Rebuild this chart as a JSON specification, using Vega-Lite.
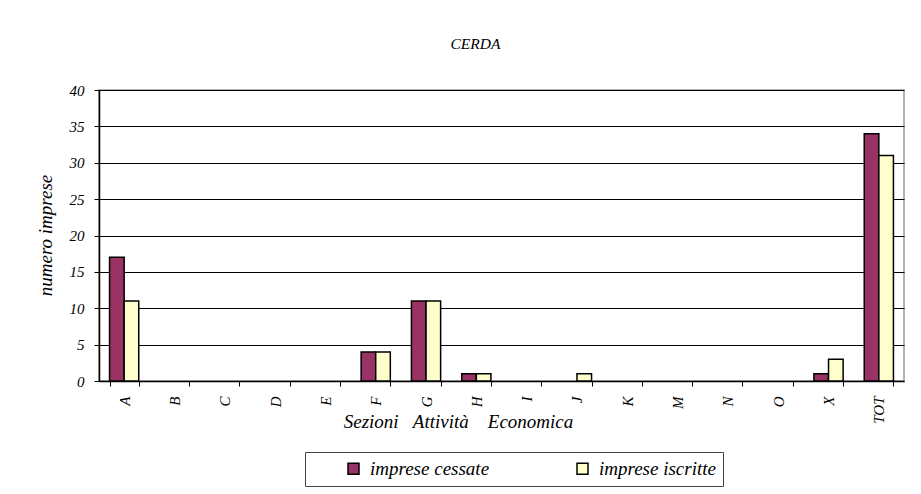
{
  "$schema": "https://vega.github.io/schema/vega-lite/v6.json",
  "autosize": "none",
  "width": 805,
  "height": 291,
  "padding": {"left": 99, "top": 90, "right": 17, "bottom": 113},
  "background": "white",
  "title": {"text": "CERDA", "font": "Liberation Serif", "fontStyle": "italic", "fontWeight": "normal", "fontSize": 15.5, "color": "black", "offset": 31, "dx": -26},
  "data": {"values": [
    {"sezione": "A", "serie": "imprese cessate", "valore": 17},
    {"sezione": "A", "serie": "imprese iscritte", "valore": 11},
    {"sezione": "B", "serie": "imprese cessate", "valore": 0},
    {"sezione": "B", "serie": "imprese iscritte", "valore": 0},
    {"sezione": "C", "serie": "imprese cessate", "valore": 0},
    {"sezione": "C", "serie": "imprese iscritte", "valore": 0},
    {"sezione": "D", "serie": "imprese cessate", "valore": 0},
    {"sezione": "D", "serie": "imprese iscritte", "valore": 0},
    {"sezione": "E", "serie": "imprese cessate", "valore": 0},
    {"sezione": "E", "serie": "imprese iscritte", "valore": 0},
    {"sezione": "F", "serie": "imprese cessate", "valore": 4},
    {"sezione": "F", "serie": "imprese iscritte", "valore": 4},
    {"sezione": "G", "serie": "imprese cessate", "valore": 11},
    {"sezione": "G", "serie": "imprese iscritte", "valore": 11},
    {"sezione": "H", "serie": "imprese cessate", "valore": 1},
    {"sezione": "H", "serie": "imprese iscritte", "valore": 1},
    {"sezione": "I", "serie": "imprese cessate", "valore": 0},
    {"sezione": "I", "serie": "imprese iscritte", "valore": 0},
    {"sezione": "J", "serie": "imprese cessate", "valore": 0},
    {"sezione": "J", "serie": "imprese iscritte", "valore": 1},
    {"sezione": "K", "serie": "imprese cessate", "valore": 0},
    {"sezione": "K", "serie": "imprese iscritte", "valore": 0},
    {"sezione": "M", "serie": "imprese cessate", "valore": 0},
    {"sezione": "M", "serie": "imprese iscritte", "valore": 0},
    {"sezione": "N", "serie": "imprese cessate", "valore": 0},
    {"sezione": "N", "serie": "imprese iscritte", "valore": 0},
    {"sezione": "O", "serie": "imprese cessate", "valore": 0},
    {"sezione": "O", "serie": "imprese iscritte", "valore": 0},
    {"sezione": "X", "serie": "imprese cessate", "valore": 1},
    {"sezione": "X", "serie": "imprese iscritte", "valore": 3},
    {"sezione": "TOT", "serie": "imprese cessate", "valore": 34},
    {"sezione": "TOT", "serie": "imprese iscritte", "valore": 31}
  ]},
  "mark": {"type": "bar", "stroke": "black", "strokeWidth": 1.5},
  "encoding": {
    "x": {
      "field": "sezione", "type": "nominal", "sort": null,
      "scale": {"paddingInner": 0.42, "paddingOuter": 0.21},
      "axis": {
        "title": "Sezioni\u00a0\u00a0\u00a0Attività\u00a0\u00a0\u00a0\u00a0Economica",
        "titleFont": "Liberation Serif", "titleFontStyle": "italic", "titleFontWeight": "normal", "titleFontSize": 19, "titleColor": "black",
        "titleX": 359, "titleY": 40, "titleAlign": "center", "titleBaseline": "middle", "titleAnchor": null,
        "labelAngle": 270, "labelAlign": "right", "labelBaseline": "middle", "labelPadding": 10,
        "labelFont": "Liberation Serif", "labelFontStyle": "italic", "labelFontSize": 15, "labelColor": "black",
        "tickBand": "extent", "tickSize": 5, "tickColor": "black", "domainColor": "black", "domainWidth": 1.5, "grid": false
      }
    },
    "xOffset": {"field": "serie", "type": "nominal", "scale": {"paddingInner": 0, "paddingOuter": 0}},
    "y": {
      "field": "valore", "type": "quantitative",
      "scale": {"domain": [0, 40], "nice": false},
      "axis": {
        "title": "numero imprese", "values": [0, 5, 10, 15, 20, 25, 30, 35, 40],
        "titleFont": "Liberation Serif", "titleFontStyle": "italic", "titleFontWeight": "normal", "titleFontSize": 19, "titleColor": "black",
        "titleX": -54, "titleY": 145, "titleAngle": 270, "titleAlign": "center", "titleBaseline": "middle", "titleAnchor": null,
        "labelFont": "Liberation Serif", "labelFontStyle": "italic", "labelFontSize": 15, "labelColor": "black", "labelPadding": 10,
        "tickSize": 5, "tickColor": "black", "domainColor": "black", "domainWidth": 1.5,
        "grid": true, "gridColor": "black", "gridWidth": 1
      }
    },
    "strokeOpacity": {"condition": {"test": "datum.valore === 0", "value": 0}, "value": 1},
    "fill": {
      "field": "serie", "type": "nominal",
      "scale": {"domain": ["imprese cessate", "imprese iscritte"], "range": ["#993366", "#FFFFCC"]},
      "legend": {
        "title": null, "orient": "none", "legendX": 206, "legendY": 362, "direction": "horizontal",
        "strokeColor": "#444", "padding": 7, "symbolType": "square", "symbolSize": 121,
        "symbolStrokeColor": "black", "symbolStrokeWidth": 1.5, "symbolOffset": 32, "symbolOpacity": 1,
        "labelFont": "Liberation Serif", "labelFontStyle": "italic", "labelFontSize": 19, "labelColor": "black",
        "labelOffset": 7, "columnPadding": 51
      }
    }
  },
  "config": {"view": {"stroke": "#999", "strokeWidth": 1.5}}
}
